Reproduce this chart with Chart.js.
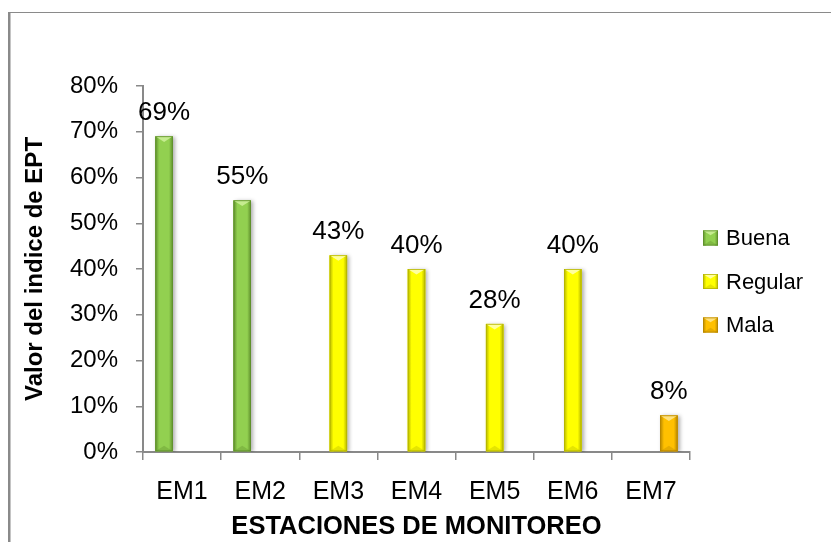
<!DOCTYPE html>
<html lang="es">
<head>
<meta charset="utf-8">
<title>Valor del índice de EPT por estación de monitoreo</title>
<script src="https://cdn.jsdelivr.net/npm/chart.js@4.4.1/dist/chart.umd.min.js"></script>
<style>
  html, body { margin: 0; padding: 0; background: #ffffff; }
  #wrap { position: relative; width: 831px; height: 542px; }
</style>
</head>
<body>
<div id="wrap"><canvas id="ept"></canvas></div>
<script>
// Estaciones de monitoreo
const estaciones = ['EM1', 'EM2', 'EM3', 'EM4', 'EM5', 'EM6', 'EM7'];

// Valor del índice EPT (%) por clase de calidad
const buena   = [69, 55, null, null, null, null, null];
const regular = [null, null, 43, 40, 28, 40, null];
const mala    = [null, null, null, null, null, null, 8];

// Marcas del eje Y (%)
const yTicks = [0, 10, 20, 30, 40, 50, 60, 70, 80];

const FONT = '"Liberation Sans", Arial, Helvetica, sans-serif';
const AXIS_GRAY = '#898989';

// Paleta: color base, borde oscuro y bisel claro
const palette = {
  Buena:   { base: '#92D050', dark: '#5F8F2C', light: '#C6EC90' },
  Regular: { base: '#FFFF00', dark: '#B5B500', light: '#FFFF9E' },
  Mala:    { base: '#FFC000', dark: '#B68600', light: '#FFE27E' }
};

// Relleno con bisel: bordes laterales oscuros, faceta superior clara
function bevel(ctx, l, t, r, b, c) {
  const w = r - l, h = b - t;
  const side = Math.min(w * 0.22, h / 2);
  const tip = Math.min(w * 0.32, h / 2);
  const cx = (l + r) / 2;
  ctx.save();
  ctx.fillStyle = c.base;
  ctx.fillRect(l, t, w, h);
  // lado izquierdo
  let g = ctx.createLinearGradient(l, 0, l + side, 0);
  g.addColorStop(0, c.dark); g.addColorStop(1, c.base);
  ctx.fillStyle = g;
  ctx.fillRect(l, t, side, h);
  // lado derecho
  g = ctx.createLinearGradient(r, 0, r - side, 0);
  g.addColorStop(0, c.dark); g.addColorStop(1, c.base);
  ctx.fillStyle = g;
  ctx.fillRect(r - side, t, side, h);
  // faceta superior
  ctx.fillStyle = c.light;
  ctx.beginPath();
  ctx.moveTo(l, t); ctx.lineTo(r, t); ctx.lineTo(cx, t + tip);
  ctx.closePath(); ctx.fill();
  // faceta inferior
  ctx.globalAlpha = 0.35;
  ctx.fillStyle = c.dark;
  ctx.beginPath();
  ctx.moveTo(l, b); ctx.lineTo(r, b); ctx.lineTo(cx, b - tip);
  ctx.closePath(); ctx.fill();
  ctx.globalAlpha = 1;
  // contorno
  ctx.strokeStyle = c.dark;
  ctx.lineWidth = 0.8;
  ctx.strokeRect(l + 0.4, t + 0.4, w - 0.8, h - 0.8);
  ctx.restore();
}

// Marco exterior del gráfico
const frame = {
  id: 'frame',
  beforeDraw(chart) {
    const ctx = chart.ctx;
    ctx.save();
    ctx.fillStyle = '#8A8A8A';
    ctx.fillRect(8, 12, 2.5, chart.height - 12);
    ctx.fillRect(8, 12, chart.width - 8, 1);
    ctx.restore();
  }
};

// Sombra suave bajo las barras
const barShadow = {
  id: 'barShadow',
  beforeDatasetsDraw(chart) {
    const ctx = chart.ctx;
    ctx.save();
    ctx.shadowColor = 'rgba(0,0,0,0.32)';
    ctx.shadowBlur = 4;
    ctx.shadowOffsetX = 2;
    ctx.shadowOffsetY = 1;
  },
  afterDatasetsDraw(chart) {
    chart.ctx.restore();
  }
};

// Bisel de cada barra y etiqueta con su valor
const barDecor = {
  id: 'barDecor',
  afterDatasetsDraw(chart) {
    const ctx = chart.ctx;
    chart.data.datasets.forEach((ds, di) => {
      const meta = chart.getDatasetMeta(di);
      if (meta.hidden) return;
      const c = palette[ds.label];
      meta.data.forEach((el, i) => {
        const v = ds.data[i];
        if (v === null || v === undefined) return;
        const p = el.getProps(['x', 'y', 'base', 'width'], true);
        bevel(ctx, p.x - p.width / 2, p.y, p.x + p.width / 2, p.base, c);
        ctx.save();
        ctx.fillStyle = '#000000';
        ctx.font = '26px ' + FONT;
        ctx.textAlign = 'center';
        ctx.textBaseline = 'alphabetic';
        ctx.fillText(v + '%', p.x, p.y - 16);
        ctx.restore();
      });
    });
  }
};

// Leyenda lateral
const sideLegend = {
  id: 'sideLegend',
  afterDraw(chart) {
    const ctx = chart.ctx;
    const x = 703, size = 15, first = 238, step = 43.5;
    chart.data.datasets.forEach((ds, di) => {
      const cy = first + di * step;
      bevel(ctx, x, cy - size / 2, x + size, cy + size / 2, palette[ds.label]);
      ctx.save();
      ctx.fillStyle = '#000000';
      ctx.font = '22px ' + FONT;
      ctx.textAlign = 'left';
      ctx.textBaseline = 'middle';
      ctx.fillText(ds.label, x + size + 8, cy + 1);
      ctx.restore();
    });
  }
};

new Chart(document.getElementById('ept'), {
  type: 'bar',
  data: {
    labels: estaciones,
    datasets: [
      { label: 'Buena',   data: buena,   backgroundColor: palette.Buena.base },
      { label: 'Regular', data: regular, backgroundColor: palette.Regular.base },
      { label: 'Mala',    data: mala,    backgroundColor: palette.Mala.base }
    ]
  },
  options: {
    responsive: true,
    maintainAspectRatio: false,
    animation: false,
    categoryPercentage: 0.69,
    barPercentage: 0.97,
    layout: { padding: { top: 86, right: 141, bottom: 0, left: 0 } },
    plugins: {
      legend: { display: false },
      title: { display: false },
      tooltip: { enabled: false }
    },
    scales: {
      x: {
        grid: {
          offset: true,
          drawOnChartArea: false,
          drawTicks: true,
          tickLength: 8,
          color: AXIS_GRAY,
          lineWidth: 1.5
        },
        border: { display: true, color: AXIS_GRAY, width: 2 },
        ticks: {
          color: '#000000',
          font: { family: FONT, size: 25, lineHeight: 1.2 },
          padding: 17,
          maxRotation: 0,
          autoSkip: false
        },
        title: {
          display: true,
          text: 'ESTACIONES DE MONITOREO',
          color: '#000000',
          font: { family: FONT, size: 25.5, weight: 'bold', lineHeight: 1.2 },
          padding: { top: 0, bottom: 0 }
        },
        afterFit(scale) { scale.height = 90; }
      },
      y: {
        min: yTicks[0],
        max: yTicks[yTicks.length - 1],
        afterBuildTicks(scale) { scale.ticks = yTicks.map(v => ({ value: v })); },
        grid: {
          drawOnChartArea: false,
          drawTicks: true,
          tickLength: 7,
          color: AXIS_GRAY,
          lineWidth: 1.5
        },
        border: { display: true, color: AXIS_GRAY, width: 2 },
        ticks: {
          color: '#000000',
          font: { family: FONT, size: 24 },
          padding: 18,
          callback: v => v + '%'
        },
        title: {
          display: true,
          text: 'Valor del indice de EPT',
          color: '#000000',
          font: { family: FONT, size: 24, weight: 'bold', lineHeight: 1.2 },
          padding: { top: 20.6, bottom: 0 }
        },
        afterFit(scale) { scale.width = 143; }
      }
    }
  },
  plugins: [frame, barShadow, barDecor, sideLegend]
});
</script>
</body>
</html>
